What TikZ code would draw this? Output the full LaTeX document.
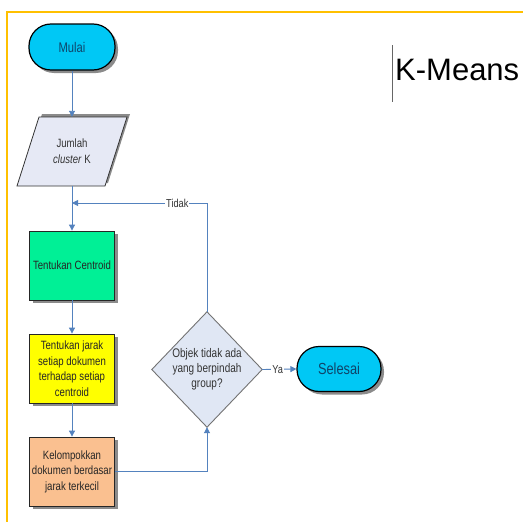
\documentclass[tikz,border=0pt]{standalone}
\usepackage{fontspec}
\setmainfont{Liberation Sans}
\newfontfamily\narrowfont[FakeStretch=0.8]{Liberation Sans}
\usetikzlibrary{arrows.meta,shadows,calc}
\definecolor{frameorange}{RGB}{255,192,0}
\definecolor{conn}{RGB}{84,130,190}
\definecolor{termfill}{RGB}{0,200,245}
\definecolor{termtext}{RGB}{15,68,105}
\definecolor{greenfill}{RGB}{0,240,150}
\definecolor{yellowfill}{RGB}{255,255,0}
\definecolor{orangefill}{RGB}{250,192,144}
\definecolor{parafill}{RGB}{230,233,245}
\definecolor{decfill}{RGB}{224,231,244}
\definecolor{shadowgray}{RGB}{110,110,110}
\tikzset{
  x=1pt, y=1pt,
  myshadow/.style={drop shadow={shadow xshift=3pt,shadow yshift=-3pt,fill=shadowgray,opacity=0.8}},
  terminal/.style={rounded corners=22pt, draw={RGB:red,20;green,50;blue,60}, line width=1.2pt, fill=termfill,
    minimum width=86pt, minimum height=46pt, text=termtext, font=\narrowfont\fontsize{14}{16}\selectfont, myshadow},
  procbox/.style={draw=black!85, line width=0.8pt, minimum width=85pt, minimum height=69pt,
    inner sep=1pt, align=center, font=\narrowfont\fontsize{12}{15.5}\selectfont, text=black!85, myshadow},
  ghost/.style={inner sep=0pt, align=center, text=black!80},
  conn/.style={draw=conn, line width=0.9pt},
  arr/.style={conn, -{Triangle[length=6pt,width=6pt]}},
  lbl/.style={fill=white, inner sep=1pt, text=black!80, font=\narrowfont\fontsize{11.5}{12}\selectfont}
}
\begin{document}
\begin{tikzpicture}
\useasboundingbox (0,0) rectangle (523,-522);
\fill[white] (0,0) rectangle (523,-522);
% frame
\draw[frameorange, line width=2pt] (7,-522) -- (7,-12) -- (523,-12);
% title
\node[anchor=base west, inner sep=0pt, font=\fontsize{31}{36}\selectfont] (title) at (395,-80) {K-Means};
\draw[black!60, line width=0.7pt] (392,-45) -- (392,-102);

% nodes
\node[terminal] (mulai) at (72,-47) {Mulai};

\fill[shadowgray, opacity=0.8] (42,-114) -- (130,-114) -- (108,-183) -- (20,-183) -- cycle;
\draw[draw=black!80, line width=0.8pt, fill=parafill] (39,-117) -- (127,-117) -- (105,-186) -- (17,-186) -- cycle;
\node[ghost, minimum width=110pt, minimum height=69pt, font=\narrowfont\fontsize{12}{16}\selectfont] (para) at (72,-151.5) {Jumlah\\\textit{cluster} K};

\coordinate (join) at (72,-203);

\node[procbox, fill=greenfill] (centroid) at (72,-265.5) {Tentukan Centroid};
\node[procbox, fill=yellowfill] (jarak) at (72,-368.5) {Tentukan jarak\\setiap dokumen\\terhadap setiap\\centroid};
\node[procbox, fill=orangefill] (kelompok) at (72,-471.5) {Kelompokkan\\dokumen berdasar\\jarak terkecil};

\node[ghost, minimum width=110pt, minimum height=115pt] (dec) at (207,-369.5) {};
\draw[draw=black!55, line width=0.9pt, fill=decfill] (dec.north) -- (dec.east) -- (dec.south) -- (dec.west) -- cycle;
\node[ghost, font=\narrowfont\fontsize{12.5}{15}\selectfont] at (dec.center) {Objek tidak ada\\yang berpindah\\group?};

\node[terminal, minimum width=84pt, minimum height=45pt, font=\narrowfont\fontsize{16}{18}\selectfont] (selesai) at (339,-369) {Selesai};

% connectors
\draw[arr] (mulai.south) -- (para.north);
\draw[arr] (para.south) -- (centroid.north);
\draw[arr] (centroid.south) -- (jarak.north);
\draw[arr] (jarak.south) -- (kelompok.north);
\draw[arr] (kelompok.east) -| (dec.south);
\draw[arr] (dec.north) |- node[lbl, pos=0.61] {Tidak} (join);
\draw[arr] (dec.east) -- node[lbl, pos=0.45] {Ya} (selesai.west);
\end{tikzpicture}
\end{document}
